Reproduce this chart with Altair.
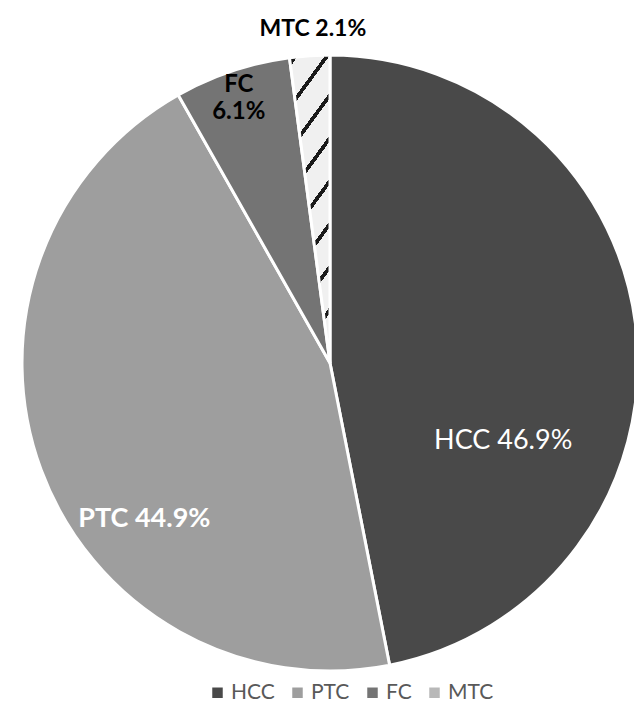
import altair as alt
import pandas as pd

categories = ["HCC", "PTC", "FC", "MTC"]
shares = [46.9, 44.9, 6.1, 2.1]
palette = ["#494949", "#9e9e9e", "#747474", "#b8b8b8"]

df = pd.DataFrame({"cat": categories, "value": shares, "order": list(range(len(categories)))})

CX, CY, R = 330, 363, 308
FONT = "Lato"


def stripe_gradient(x2, y2, period, width, phase, bg="#f0f0f0", fg="#1a1a1a"):
    stops = [{"offset": 0, "color": bg}]
    s = phase
    while s + width < 1:
        stops += [
            {"offset": round(s, 4), "color": bg},
            {"offset": round(s, 4), "color": fg},
            {"offset": round(s + width, 4), "color": fg},
            {"offset": round(s + width, 4), "color": bg},
        ]
        s += period
    stops.append({"offset": 1, "color": bg})
    return {"gradient": "linear", "x1": 0, "y1": 0, "x2": x2, "y2": y2, "stops": stops}


pie_hatch = stripe_gradient(0.18, 1, 0.135, 0.02, 0.02)

color_scale = alt.Scale(domain=categories, range=palette)

arcs = alt.Chart(df).mark_arc(outerRadius=R, stroke="white", strokeWidth=3).encode(
    theta=alt.Theta("value:Q", stack=True, scale=alt.Scale(domain=[0, 100])),
    order=alt.Order("order:Q"),
    x=alt.value(CX),
    y=alt.value(CY),
    fill=alt.condition(
        alt.datum.cat == "MTC",
        alt.value(pie_hatch),
        alt.Fill(
            "cat:N",
            scale=color_scale,
            sort=categories,
            legend=alt.Legend(
                title=None,
                orient="none",
                direction="horizontal",
                legendX=207,
                legendY=682,
                symbolType="square",
                symbolSize=110,
                symbolStrokeWidth=0,
                labelFont=FONT,
                labelFontSize=21,
                labelColor="#595959",
                labelOffset=3,
                columnPadding=12,
            ),
        ),
    ),
)

text_base = (
    alt.Chart(df)
    .transform_window(cum="sum(value)", sort=[alt.SortField("order")], frame=[None, 0])
    .transform_calculate(
        mid="datum.cum - datum.value / 2",
        label="datum.cat + (datum.cat === 'FC' ? '\\n' : ' ') + format(datum.value, '.1f') + '%'",
    )
)


def label_layer(cat, radius, dx, dy, color, weight, size):
    return (
        text_base.transform_filter(alt.datum.cat == cat)
        .mark_text(
            radius=radius,
            dx=dx,
            dy=dy,
            color=color,
            fontWeight=weight,
            font=FONT,
            fontSize=size,
            lineBreak="\n",
            lineHeight=27,
            align="center",
            baseline="middle",
        )
        .encode(
            theta=alt.Theta("mid:Q", stack=None, scale=alt.Scale(domain=[0, 100])),
            text="label:N",
            x=alt.value(CX),
            y=alt.value(CY),
        )
    )


labels = [
    label_layer("HCC", 174, 0, 95, "white", "normal", 27),
    label_layer("PTC", 198, 0, 87, "white", "bold", 27),
    label_layer("FC", 268, -6, -24, "black", "bold", 24),
    label_layer("MTC", 335, 5, 0, "black", "bold", 23),
]

chart = (
    alt.layer(arcs, *labels)
    .properties(width=634, height=715, padding=0, autosize=alt.AutoSizeParams(type="none"))
    .configure_view(stroke=None)
)

chart.save("out.html", embed_options={"renderer": "svg", "actions": False})
